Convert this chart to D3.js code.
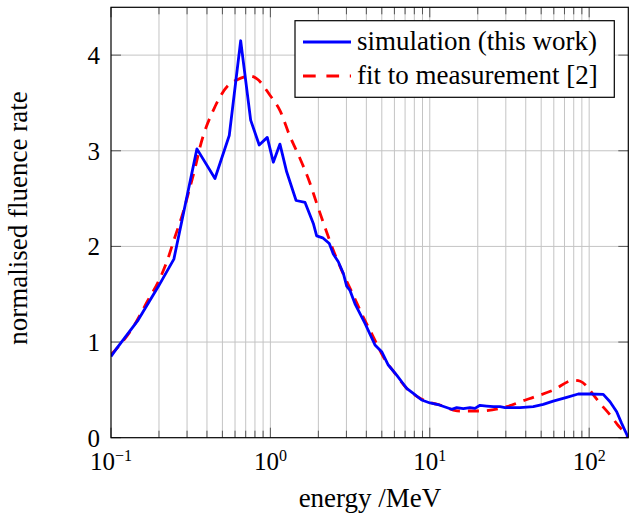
<!DOCTYPE html>
<html><head><meta charset="utf-8">
<script src="https://cdn.jsdelivr.net/npm/d3@7"></script>
<style>body{margin:0;background:#fff} text{font-family:"Liberation Serif","Times New Roman",serif;fill:#000}</style>
</head><body><svg id="c" width="630" height="516"></svg>
<script>
const simEnergy = [0.1,0.1086,0.148,0.198,0.248,0.346,0.449,0.552,0.651,0.752,0.851,0.956,1.043,1.148,1.265,1.45,1.65,1.859,1.951,2.128,2.342,2.481,2.667,2.866,3.01,3.158,3.395,3.923,4.532,4.992,5.491,6.199,6.664,7.163,7.88,8.897,10.03,11.47,13.72,14.75,16.23,17.87,19.21,20.65,22.75,25.03,27.57,29.64,36.8,44.6,51.5,59.5,72.3,85.4,101.2,122.6,135.1,148.8,159.9,175.9];
const simRate   = [0.85,0.934,1.23,1.58,1.867,3.02,2.71,3.16,4.15,3.32,3.06,3.14,2.88,3.07,2.78,2.48,2.46,2.24,2.11,2.09,2.03,1.92,1.84,1.72,1.585,1.54,1.40,1.195,0.969,0.899,0.76,0.655,0.585,0.516,0.464,0.394,0.363,0.342,0.297,0.314,0.303,0.314,0.307,0.339,0.331,0.324,0.324,0.314,0.314,0.324,0.349,0.383,0.422,0.457,0.457,0.453,0.376,0.272,0.15,0];
const fitEnergy = [0.1,0.111,0.138,0.171,0.198,0.224,0.252,0.284,0.305,0.337,0.362,0.449,0.545,0.615,0.745,0.82,0.994,1.149,1.327,1.496,1.772,1.952,2.2,2.481,2.802,3.311,3.827,4.42,5.11,6.05,7.16,8.68,10.52,11.59,14.04,15.47,20.15,22.2,30.37,38.6,44.6,59.5,79.5,88,96.5,106,117,135,150,165,176];
const fitRate   = [0.87,0.95,1.16,1.44,1.63,1.84,2.10,2.36,2.55,2.82,3.04,3.46,3.685,3.74,3.78,3.755,3.58,3.42,3.15,2.96,2.66,2.45,2.20,1.96,1.75,1.49,1.26,1.055,0.846,0.673,0.516,0.412,0.359,0.342,0.289,0.279,0.279,0.282,0.324,0.387,0.422,0.498,0.60,0.59,0.54,0.45,0.36,0.24,0.14,0.06,0];
const yTicks = [0,1,2,3,4];
const xTickExps = [-1,0,1,2];
const legendLabels = ["simulation (this work)","fit to measurement [2]"];
const xLabel = "energy /MeV";
const yLabel = "normalised fluence rate";

const L=111,R=628.3,T=7.3,B=437.7;
const svg=d3.select("#c");
const x=d3.scaleLog().domain([0.1,176]).range([L,R]);
const y=d3.scaleLinear().domain([0,4.5]).range([B,T]);

const minor=[];
for(const e of xTickExps){for(let m=1;m<=9;m++){const v=m*Math.pow(10,e); if(v>=0.1&&v<=176) minor.push({v,major:m===1});}}
const g=svg.append("g");
g.selectAll("line.vg").data(minor.filter(d=>d.v>0.1)).join("line")
 .attr("x1",d=>x(d.v)).attr("x2",d=>x(d.v)).attr("y1",T).attr("y2",B)
 .attr("stroke","#c4c4c4").attr("stroke-width",1);
g.selectAll("line.hg").data(yTicks.filter(d=>d>0)).join("line")
 .attr("x1",L).attr("x2",R).attr("y1",d=>y(d)).attr("y2",d=>y(d))
 .attr("stroke","#c4c4c4").attr("stroke-width",1);
const tk=svg.append("g").attr("stroke","#555").attr("stroke-width",1);
for(const d of minor){const len=d.major?10:7; const xx=x(d.v);
 tk.append("line").attr("x1",xx).attr("x2",xx).attr("y1",B).attr("y2",B-len);
 tk.append("line").attr("x1",xx).attr("x2",xx).attr("y1",T).attr("y2",T+len);}
for(const v of yTicks){const yy=y(v);
 tk.append("line").attr("x1",L).attr("x2",L+10).attr("y1",yy).attr("y2",yy);
 tk.append("line").attr("x1",R).attr("x2",R-10).attr("y1",yy).attr("y2",yy);}

svg.append("clipPath").attr("id","cp").append("rect").attr("x",L).attr("y",T).attr("width",R-L).attr("height",B-T);
const fitData=fitEnergy.map((e,i)=>[e,fitRate[i]]);
const simData=simEnergy.map((e,i)=>[e,simRate[i]]);
svg.append("path").datum(fitData).attr("clip-path","url(#cp)")
 .attr("d",d3.line().x(d=>x(d[0])).y(d=>y(d[1])).curve(d3.curveMonotoneX))
 .attr("fill","none").attr("stroke","#ff0000").attr("stroke-width",2.8).attr("stroke-dasharray","11,8");
svg.append("path").datum(simData).attr("clip-path","url(#cp)")
 .attr("d",d3.line().x(d=>x(d[0])).y(d=>y(d[1])))
 .attr("fill","none").attr("stroke","#0000ff").attr("stroke-width",2.8).attr("stroke-linejoin","round");

svg.append("rect").attr("x",L).attr("y",T).attr("width",R-L).attr("height",B-T).attr("fill","none").attr("stroke","#000").attr("stroke-width",1.2);

const TFS=25, LFS=27;
svg.selectAll("text.yt").data(yTicks).join("text").attr("class","yt")
 .attr("x",100).attr("y",d=>y(d)+9).attr("text-anchor","end").attr("font-size",TFS).text(d=>d);
const xt=svg.selectAll("text.xt").data(xTickExps).join("text").attr("class","xt")
 .attr("x",d=>x(Math.pow(10,d))).attr("y",470).attr("text-anchor","middle").attr("font-size",TFS);
xt.append("tspan").text("10");
xt.append("tspan").attr("font-size",16).attr("dy",-9).text(d=>d<0?"\u2212"+(-d):String(d));

svg.append("text").attr("x",370).attr("y",507).attr("text-anchor","middle").attr("font-size",LFS).text(xLabel);
svg.append("text").attr("transform","translate(27,218) rotate(-90)").attr("text-anchor","middle").attr("font-size",LFS).text(yLabel);

const lg=svg.append("g");
lg.append("rect").attr("x",295).attr("y",20.7).attr("width",319.3).attr("height",76.6).attr("fill","#fff").attr("stroke","#000").attr("stroke-width",1.2);
const styles=[{c:"#0000ff",d:null},{c:"#ff0000",d:"12.7,10.7"}];
legendLabels.forEach((t,i)=>{const yy=42+i*34;
 const ln=lg.append("line").attr("x1",303).attr("x2",351).attr("y1",yy).attr("y2",yy).attr("stroke",styles[i].c).attr("stroke-width",2.8);
 if(styles[i].d) ln.attr("stroke-dasharray",styles[i].d);
 lg.append("text").attr("x",357).attr("y",yy+8).attr("font-size",LFS).text(t);
});
</script></body></html>
